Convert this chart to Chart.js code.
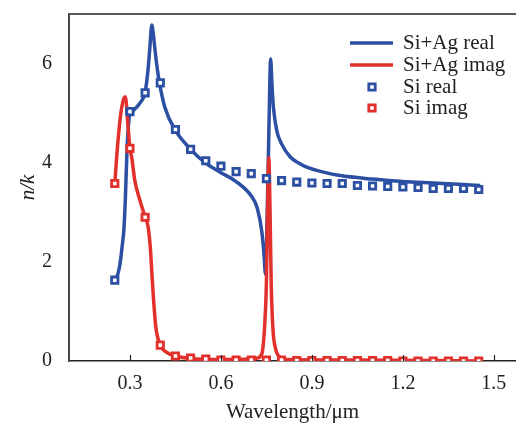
<!DOCTYPE html>
<html>
<head>
<meta charset="utf-8">
<script src="https://cdn.jsdelivr.net/npm/chart.js@4/dist/chart.umd.min.js"></script>
<style>
  body { margin: 0; background: #fff; }
</style>
</head>
<body>
<canvas id="chart" width="516" height="426"></canvas>
<script>
// Si+Ag real (blue curve)
var agRealX = [0.25, 0.26, 0.267, 0.275, 0.28, 0.285, 0.29, 0.295, 0.3, 0.31, 0.322, 0.335, 0.35, 0.36, 0.366, 0.372,
  0.377, 0.383, 0.39, 0.397, 0.415, 0.45, 0.5, 0.55, 0.6, 0.65, 0.7, 0.72, 0.735, 0.742, 0.747, 0.752, 0.758, 0.764,
  0.768, 0.773, 0.784, 0.8, 0.828, 0.855, 0.883, 0.938, 0.993, 1.1, 1.2, 1.3, 1.4, 1.455];
var agRealY = [1.63, 1.75, 1.95, 2.35, 2.65, 3.3, 4.2, 4.75, 5.0, 5.05, 5.12, 5.22, 5.42, 5.9, 6.35, 6.78,
  6.6, 6.25, 5.9, 5.62, 5.12, 4.65, 4.27, 3.99, 3.8, 3.62, 3.33, 3.08, 2.6, 2.15, 1.75, 2.8, 4.6, 6.09,
  5.6, 5.12, 4.65, 4.38, 4.12, 4.0, 3.91, 3.81, 3.74, 3.67, 3.62, 3.59, 3.56, 3.54];

// Si+Ag imag (red curve)
var agImagX = [0.25, 0.26, 0.27, 0.28, 0.285, 0.294, 0.3, 0.306, 0.316, 0.333, 0.35, 0.36, 0.367, 0.375, 0.385,
  0.4, 0.42, 0.45, 0.5, 0.6, 0.7, 0.72, 0.735, 0.745, 0.75, 0.755, 0.758, 0.762, 0.766, 0.772, 0.78, 0.79, 0.81,
  1.0, 1.455];
var agImagY = [3.58, 4.4, 5.0, 5.3, 5.33, 4.7, 4.29, 4.1, 3.64, 3.24, 2.9, 2.7, 2.3, 1.5, 0.7,
  0.32, 0.18, 0.1, 0.05, 0.03, 0.04, 0.06, 0.15, 0.8, 1.6, 3.5, 4.1, 3.0, 1.5, 0.6, 0.25, 0.1, 0.03,
  0.02, 0.0];

// Si reference points
var siWave = [0.25, 0.3, 0.35, 0.4, 0.45, 0.5, 0.55, 0.6, 0.65, 0.7, 0.75, 0.8, 0.85, 0.9, 0.95, 1.0,
  1.05, 1.1, 1.15, 1.2, 1.25, 1.3, 1.35, 1.4, 1.45];
var siReal = [1.63, 5.03, 5.41, 5.61, 4.67, 4.27, 4.04, 3.93, 3.82, 3.78, 3.68, 3.64, 3.61, 3.59, 3.58, 3.58,
  3.54, 3.53, 3.52, 3.51, 3.5, 3.48, 3.48, 3.48, 3.46];
var siImag = [3.58, 4.29, 2.9, 0.32, 0.1, 0.06, 0.04, 0.02, 0.02, 0.02, 0.02, 0.02, 0.01, 0.01, 0.01, 0.01,
  0.01, 0.01, 0.01, 0.0, 0.0, 0.0, 0.0, 0.0, 0.0];

var xTicks = [0.3, 0.6, 0.9, 1.2, 1.5];
var yTicks = [0, 2, 4, 6];
var seriesNames = ["Si+Ag real", "Si+Ag imag", "Si real", "Si imag"];

var blue = "#2b4fa3";
var red = "#e2302c";
var serif = "'Liberation Serif', 'Times New Roman', serif";

function pts(xs, ys) {
  return xs.map(function (x, i) { return { x: x, y: ys[i] }; });
}

var frame = {
  id: "frame",
  afterDraw: function (chart) {
    var ctx = chart.ctx, a = chart.chartArea, xs = chart.scales.x;
    ctx.save();
    // top border
    ctx.strokeStyle = "#5a5a5a";
    ctx.lineWidth = 2;
    ctx.beginPath();
    ctx.moveTo(a.left, a.top);
    ctx.lineTo(a.right, a.top);
    ctx.stroke();
    // inward ticks on x axis
    ctx.strokeStyle = "#222";
    ctx.lineWidth = 1.2;
    xTicks.forEach(function (t) {
      var px = Math.round(xs.getPixelForValue(t)) + 0.5;
      ctx.beginPath();
      ctx.moveTo(px, a.bottom);
      ctx.lineTo(px, a.bottom - 6);
      ctx.stroke();
    });
    // legend
    ctx.font = "21px " + serif;
    ctx.textBaseline = "middle";
    var rows = [43, 65, 87, 108];
    var cols = [blue, red, blue, red];
    rows.forEach(function (y, i) {
      if (i < 2) {
        ctx.strokeStyle = cols[i];
        ctx.lineWidth = 3.5;
        ctx.beginPath();
        ctx.moveTo(350, y);
        ctx.lineTo(393, y);
        ctx.stroke();
      } else {
        ctx.fillStyle = "#fff";
        ctx.strokeStyle = cols[i];
        ctx.lineWidth = 2.8;
        ctx.beginPath();
        ctx.rect(372 - 3.2, y - 3.2, 6.4, 6.4);
        ctx.fill();
        ctx.stroke();
      }
      ctx.fillStyle = "#222";
      ctx.fillText(seriesNames[i], 403, y);
    });
    ctx.restore();
  }
};

new Chart(document.getElementById("chart").getContext("2d"), {
  type: "line",
  data: {
    datasets: [
      {
        label: seriesNames[3], data: pts(siWave, siImag), order: 0,
        showLine: false, pointStyle: "rect", pointRadius: 4.5, pointBorderWidth: 2.8,
        pointBorderColor: red, pointBackgroundColor: "#fff", borderColor: red
      },
      {
        label: seriesNames[2], data: pts(siWave, siReal), order: 1,
        showLine: false, pointStyle: "rect", pointRadius: 4.5, pointBorderWidth: 2.8,
        pointBorderColor: blue, pointBackgroundColor: "#fff", borderColor: blue
      },
      {
        label: seriesNames[1], data: pts(agImagX, agImagY), order: 2,
        borderColor: red, borderWidth: 3.5, pointRadius: 0, cubicInterpolationMode: "monotone", fill: false
      },
      {
        label: seriesNames[0], data: pts(agRealX, agRealY), order: 3,
        borderColor: blue, borderWidth: 3.5, pointRadius: 0, cubicInterpolationMode: "monotone", fill: false
      }
    ]
  },
  options: {
    responsive: false,
    animation: false,
    layout: { autoPadding: false, padding: { top: 14, right: 0, left: 0, bottom: 0 } },
    plugins: { legend: { display: false }, tooltip: { enabled: false } },
    scales: {
      x: {
        type: "linear", min: 0.099, max: 1.573,
        afterBuildTicks: function (s) { s.ticks = xTicks.map(function (v) { return { value: v }; }); },
        afterFit: function (s) { s.height = 65; s.paddingLeft = 0; s.paddingRight = 0; },
        grid: { display: false, drawTicks: false },
        border: { display: true, color: "#222", width: 1.5 },
        ticks: { padding: 11, color: "#222", font: { family: serif, size: 20 }, maxRotation: 0,
          callback: function (v) { return v.toFixed(1); } },
        title: { display: true, text: "Wavelength/\u03bcm", color: "#222", padding: 1, font: { family: serif, size: 21 } }
      },
      y: {
        min: 0, max: 7,
        afterBuildTicks: function (s) { s.ticks = yTicks.map(function (v) { return { value: v }; }); },
        afterFit: function (s) { s.width = 69; s.paddingTop = 0; s.paddingBottom = 0; },
        grid: { display: false, drawTicks: false },
        border: { display: true, color: "#4a4a4a", width: 2 },
        ticks: { padding: 17, color: "#222", font: { family: serif, size: 20 } },
        title: { display: true, text: "n/k", color: "#222", padding: 16, font: { family: serif, size: 21, style: "italic" } }
      }
    }
  },
  plugins: [frame]
});
</script>
</body>
</html>
